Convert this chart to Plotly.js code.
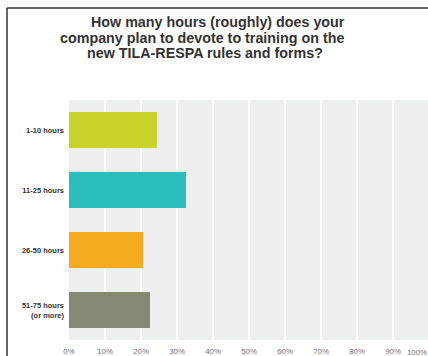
<!DOCTYPE html>
<html>
<head>
<meta charset="utf-8">
<script src="https://cdn.plot.ly/plotly-3.0.1.min.js"></script>
<style>
html,body{margin:0;padding:0;overflow:hidden;background:#fff;}
#chart{width:430px;height:356px;}
</style>
</head>
<body>
<div id="chart"></div>
<script>
var categories = ["1-10 hours", "11-25 hours", "26-50 hours", "51-75 hours<br>(or more)"];
var values = [24.4, 32.5, 20.6, 22.5];
var barColors = ["#c9d22b", "#2bbcbc", "#f4ab1f", "#858873"];
var xTickVals = [0, 10, 20, 30, 40, 50, 60, 70, 80, 90];
var xTickText = ["0%", "10%", "20%", "30%", "40%", "50%", "60%", "70%", "80%", "90%"];
var lastTickVal = 100;
var lastTickText = "100%";
var titleLines = [
  "How many hours (roughly) does your",
  "company plan to devote to training on the",
  "new TILA-RESPA rules and forms?"
];

var W = 430, H = 356;
var ML = 69, MR = 1, MT = 100, MB = 16;
var PW = W - ML - MR, PH = H - MT - MB;
function px2x(px) { return (px - ML) / PW; }
function py2y(py) { return (H - MB - py) / PH; }

var trace = {
  type: "bar",
  orientation: "h",
  y: categories,
  x: values,
  marker: {color: barColors},
  hoverinfo: "none"
};

var tickFont = {family: "Liberation Sans, Arial, sans-serif", size: 7.8, color: "#707070"};
var titleFont = {family: "Liberation Sans, Arial, sans-serif", size: 14.3, color: "#333333", weight: "bold"};

var titleCenters = [218, 202, 205];
var titleRows = [22, 38, 53.5];
var annotations = titleLines.map(function (t, i) {
  return {xref: "paper", yref: "paper", x: px2x(titleCenters[i]), y: py2y(titleRows[i]),
          xanchor: "center", yanchor: "middle", text: t, showarrow: false, font: titleFont};
});
annotations.push({xref: "x", yref: "paper", x: lastTickVal, y: 0, xanchor: "right", yanchor: "top",
     yshift: -6, text: lastTickText, showarrow: false, font: tickFont});

var layout = {
  width: W, height: H,
  margin: {l: ML, r: MR, t: MT, b: MB, pad: 0},
  paper_bgcolor: "#ffffff",
  plot_bgcolor: "#eef0f0",
  bargap: 0.4,
  showlegend: false,
  xaxis: {
    range: [0, 100],
    tickvals: xTickVals,
    ticktext: xTickText,
    showgrid: true,
    gridcolor: "#ffffff",
    gridwidth: 1.5,
    zeroline: false,
    showline: false,
    ticks: "",
    ticklabelstandoff: 5,
    tickfont: tickFont,
    fixedrange: true
  },
  yaxis: {
    autorange: "reversed",
    showgrid: false,
    zeroline: false,
    showline: false,
    ticks: "",
    ticklabelstandoff: 4,
    tickfont: {family: "Liberation Sans, Arial, sans-serif", size: 7.5, color: "#333333", weight: "bold"},
    fixedrange: true
  },
  annotations: annotations,
  shapes: [
    {type: "line", xref: "paper", yref: "paper",
     x0: px2x(7), x1: px2x(7), y0: py2y(8), y1: py2y(H),
     line: {color: "#333333", width: 1.5}},
    {type: "line", xref: "paper", yref: "paper",
     x0: px2x(7), x1: px2x(W), y0: py2y(8), y1: py2y(8),
     line: {color: "#333333", width: 1.5}}
  ]
};

Plotly.newPlot("chart", [trace], layout, {displayModeBar: false, staticPlot: true});
</script>
</body>
</html>
